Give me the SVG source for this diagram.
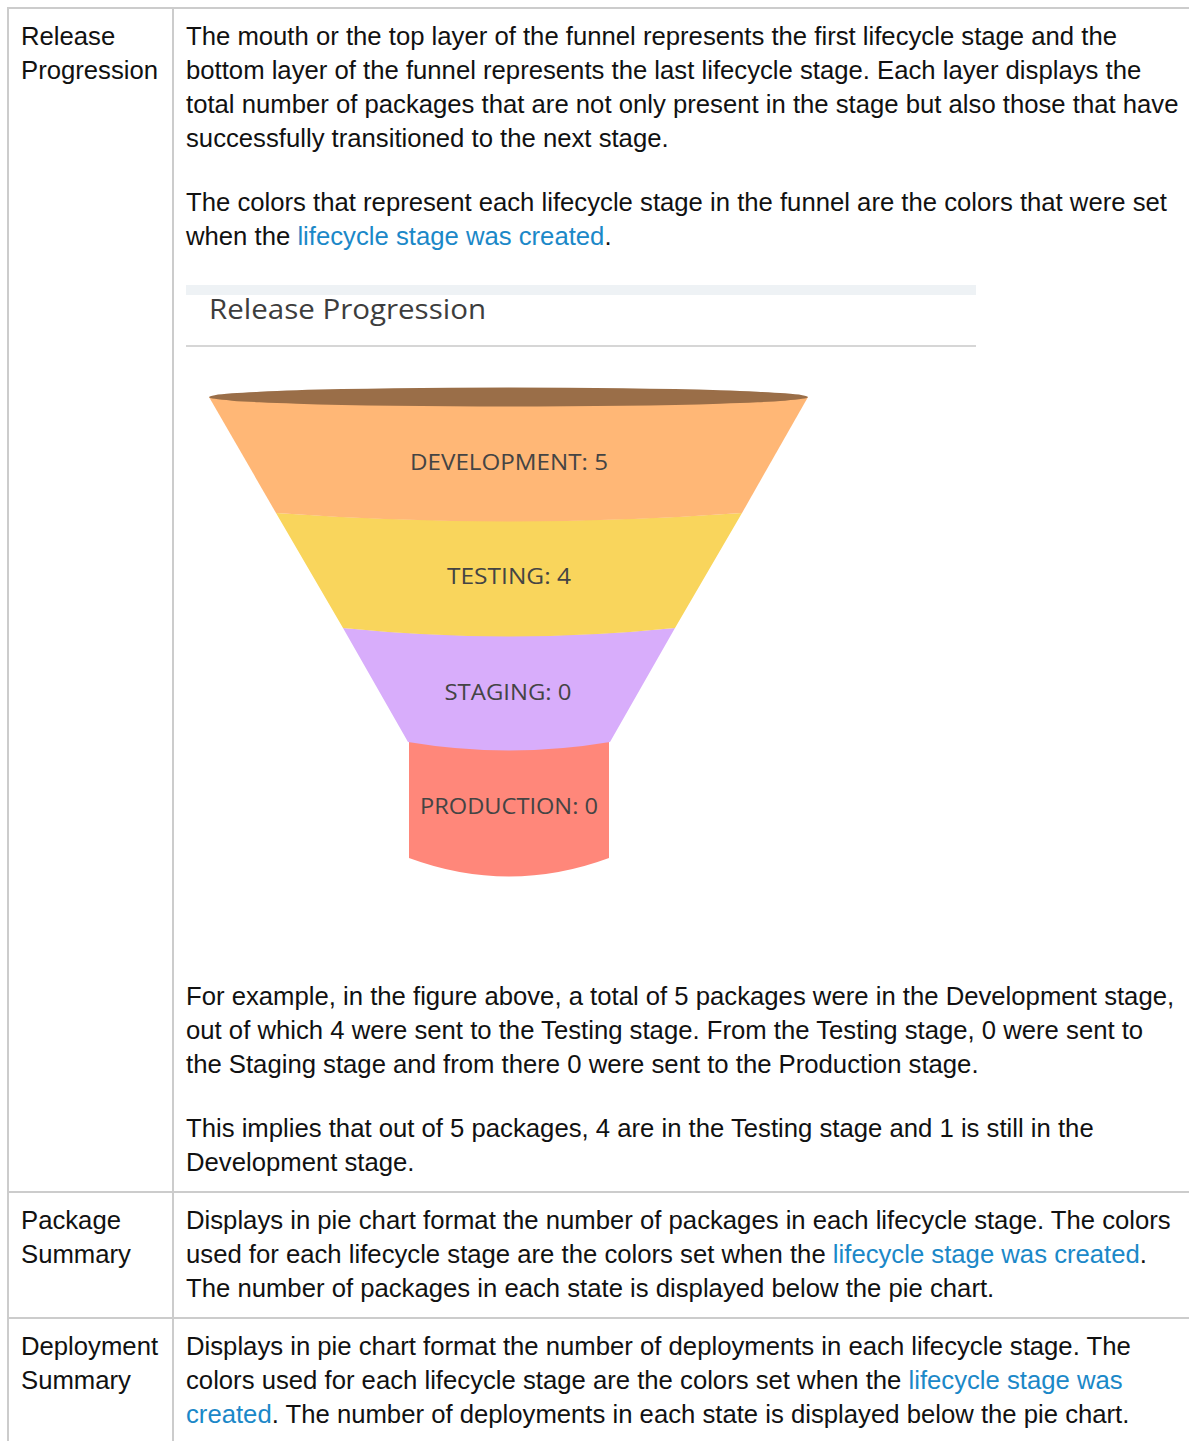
<svg xmlns="http://www.w3.org/2000/svg" width="1189" height="1441" viewBox="0 0 1189 1441">
<style>
.t{font-family:"Liberation Sans",Arial,sans-serif;font-size:25.7px;fill:#111}
.a{fill:#1b88c8}
.rule{stroke:#cccccc;stroke-width:2;fill:none}
.lbl{font-family:"Open Sans","DejaVu Sans",sans-serif;font-size:21px;fill:#444;text-anchor:middle}
.hdr{font-family:"Open Sans","DejaVu Sans",sans-serif;font-size:28px;fill:#3d3d3d}
</style>
<rect width="1189" height="1441" fill="#fff"/>
<g id="table">
<line class="rule" x1="7" y1="8" x2="1189" y2="8"/>
<line class="rule" x1="8" y1="8" x2="8" y2="1441"/>
<line class="rule" x1="173" y1="8" x2="173" y2="1441"/>
<line class="rule" x1="7" y1="1192" x2="1189" y2="1192"/>
<line class="rule" x1="7" y1="1318" x2="1189" y2="1318"/>
</g>
<g id="row-release">
<text class="t" x="21" y="45">Release</text>
<text class="t" x="21" y="79">Progression</text>
<text class="t" x="186" y="45">The mouth or the top layer of the funnel represents the first lifecycle stage and the</text>
<text class="t" x="186" y="79">bottom layer of the funnel represents the last lifecycle stage. Each layer displays the</text>
<text class="t" x="186" y="113">total number of packages that are not only present in the stage but also those that have</text>
<text class="t" x="186" y="147">successfully transitioned to the next stage.</text>
<text class="t" x="186" y="211">The colors that represent each lifecycle stage in the funnel are the colors that were set</text>
<text class="t" x="186" y="245">when the <tspan class="a">lifecycle stage was created</tspan>.</text>
<text class="t" x="186" y="1005">For example, in the figure above, a total of 5 packages were in the Development stage,</text>
<text class="t" x="186" y="1039">out of which 4 were sent to the Testing stage. From the Testing stage, 0 were sent to</text>
<text class="t" x="186" y="1073">the Staging stage and from there 0 were sent to the Production stage.</text>
<text class="t" x="186" y="1137">This implies that out of 5 packages, 4 are in the Testing stage and 1 is still in the</text>
<text class="t" x="186" y="1171">Development stage.</text>
</g>
<g id="funnel-figure">
<rect x="186" y="285" width="790" height="10" fill="#eef2f5"/>
<text class="hdr" x="209" y="319" textLength="277" lengthAdjust="spacingAndGlyphs">Release Progression</text>
<line x1="186" y1="346" x2="976" y2="346" stroke="#d6d6d6" stroke-width="2"/>
<g id="stage-production">
<path d="M409,742 L609,742 L609,858 Q509,895 409,858 Z" fill="#ff877a"/>
<text class="lbl" x="509" y="814" textLength="178" lengthAdjust="spacingAndGlyphs">PRODUCTION: 0</text>
</g>
<g id="stage-staging">
<path d="M343,628 Q509,644 675,628 L610,742 Q509,759 408,742 Z" fill="#d8adfb"/>
<text class="lbl" x="508" y="700" textLength="127" lengthAdjust="spacingAndGlyphs">STAGING: 0</text>
</g>
<g id="stage-testing">
<path d="M276,513 Q509,529 742,513 L675,628 Q509,645 343,628 Z" fill="#f9d55c"/>
<text class="lbl" x="509" y="584" textLength="124" lengthAdjust="spacingAndGlyphs">TESTING: 4</text>
</g>
<g id="stage-development">
<path d="M209,397 L808,397 L742,513 Q509,530 276,513 Z" fill="#ffb776"/>
<ellipse cx="508.5" cy="397" rx="299.5" ry="9.5" fill="#9a6e48"/>
<text class="lbl" x="509" y="470" textLength="198" lengthAdjust="spacingAndGlyphs">DEVELOPMENT: 5</text>
</g>
</g>
<g id="row-package">
<text class="t" x="21" y="1229">Package</text>
<text class="t" x="21" y="1263">Summary</text>
<text class="t" x="186" y="1229">Displays in pie chart format the number of packages in each lifecycle stage. The colors</text>
<text class="t" x="186" y="1263">used for each lifecycle stage are the colors set when the <tspan class="a">lifecycle stage was created</tspan>.</text>
<text class="t" x="186" y="1297">The number of packages in each state is displayed below the pie chart.</text>
</g>
<g id="row-deployment">
<text class="t" x="21" y="1355">Deployment</text>
<text class="t" x="21" y="1389">Summary</text>
<text class="t" x="186" y="1355">Displays in pie chart format the number of deployments in each lifecycle stage. The</text>
<text class="t" x="186" y="1389">colors used for each lifecycle stage are the colors set when the <tspan class="a">lifecycle stage was</tspan></text>
<text class="t" x="186" y="1423"><tspan class="a">created</tspan>. The number of deployments in each state is displayed below the pie chart.</text>
</g>
</svg>
